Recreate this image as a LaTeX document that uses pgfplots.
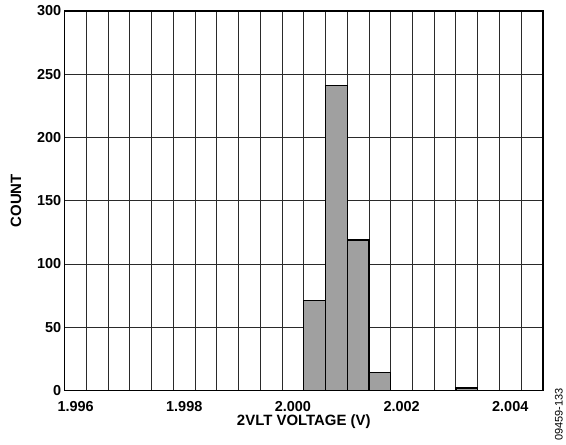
\documentclass[border=0pt]{standalone}
\usepackage{pgfplots}
\pgfplotsset{compat=1.18}
\usepackage{fontspec}
\setmainfont{Liberation Sans}
\definecolor{barfill}{HTML}{A0A0A0}
\definecolor{gridc}{HTML}{2A2A2A}
\begin{document}
\begin{tikzpicture}
\begin{axis}[
  scale only axis,
  width=480pt, height=381pt,
  xmin=1.9958, xmax=2.0046,
  ymin=0, ymax=300,
  xtick={1.996,1.998,2.000,2.002,2.004},
  xticklabels={1.996,1.998,2.000,2.002,2.004},
  minor xtick={1.9962,1.9966,1.9970,1.9974,1.9978,1.9982,1.9986,1.9990,1.9994,1.9998,2.0002,2.0006,2.0010,2.0014,2.0018,2.0022,2.0026,2.0030,2.0034,2.0038,2.0042},
  ytick={0,50,100,150,200,250,300},
  minor grid style={draw=gridc, line width=0.9pt},
  major grid style={draw=gridc, line width=0.9pt},
  xmajorgrids=false, xminorgrids=true, ymajorgrids=true,
  major tick length=0pt, minor tick length=0pt,
  axis line style={line width=1.4pt, black},
  tick label style={font=\fontsize{14.5}{16}\selectfont\bfseries},
  xticklabel style={yshift=-7pt},
  /pgf/number format/assume math mode=true,
  label style={font=\fontsize{15}{17}\selectfont\bfseries},
  xlabel={2VLT VOLTAGE (V)},
  ylabel={COUNT},
  xlabel style={at={(axis description cs:0.5,0)}, anchor=center, yshift=-31pt},
  ylabel style={at={(axis description cs:-0.102,0.5)}, anchor=center},
]
\addplot[ybar interval, fill=barfill, draw=black, line width=1.4pt] coordinates {
 (2.0002,71) (2.0006,241) (2.0010,119) (2.0014,14) (2.0018,0)
};
\addplot[ybar interval, fill=barfill, draw=black, line width=1.4pt] coordinates {
 (2.0030,2) (2.0034,0)
};
\end{axis}
\node[rotate=90, anchor=center, font=\fontsize{11}{12}\selectfont] at (496pt,-24pt) {09459-133};
\path[use as bounding box] (-65pt,-54pt) rectangle (501pt,392pt);
\end{tikzpicture}
\end{document}
